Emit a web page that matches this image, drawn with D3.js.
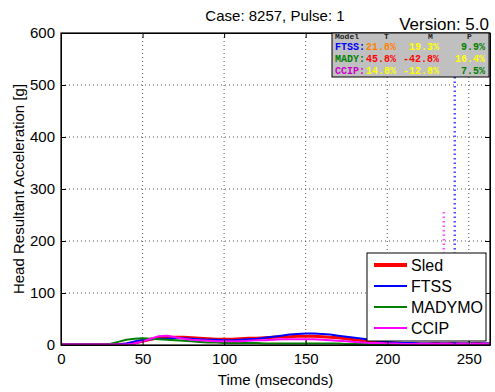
<!DOCTYPE html>
<html>
<head>
<meta charset="utf-8">
<script src="https://cdn.jsdelivr.net/npm/d3@7"></script>
<style>
  body { margin: 0; background: #fff; }
  #chart { width: 495px; height: 392px; }
  text { font-family: "Liberation Sans", Arial, sans-serif; }
</style>
</head>
<body>
<div id="chart"></div>
<script>
// Head resultant acceleration vs time, sled + three models
const seriesNames = ['Sled', 'FTSS', 'MADYMO', 'CCIP'];
const seriesColors = ['#ff0000', '#0000ff', '#008000', '#ff00ff'];
const seriesWidths = [3, 2, 2, 2];

const time = [0,5,10,15,20,25,30,35,40,45,50,55,60,65,70,75,80,85,90,95,100,105,110,115,120,125,130,135,140,145,150,155,160,165,170,175,180,185,190,195,200,205,210,215,220,225,230,235,240,245,250,255,260,263];

const sled   = [1,1,1,1,1,1,1,1,2,4,7,11,14,15,15,15,14,13,12,11,11,11,12,13,13,14,15,16,16,17,17,17,16,15,14,12,10,8,6,5,4,3,3,3,2,2,3,2,3,2,2,3,2,2];
const ftss   = [1,1,1,1,1,1,1,1,3,7,10,11,12,12,13,13,12,11,10,10,9,9,10,11,12,14,16,18,20,21,22,22,21,20,18,16,14,12,10,8,6,5,4,4,3,3,3,3,3,3,3,3,3,3];
const madymo = [1,1,1,1,1,1,2,6,10,12,13,12,11,10,9,8,7,6,5,5,4,4,4,4,4,3,3,3,3,3,3,3,3,3,3,2,2,2,2,2,2,2,2,2,2,2,2,2,2,2,2,2,2,2];
const ccip   = [1,1,1,1,1,1,1,1,1,3,7,12,17,18,15,12,10,9,8,7,7,7,7,8,9,9,10,11,11,11,11,11,10,9,8,7,6,5,4,4,3,3,2,2,2,2,2,2,2,2,2,2,2,2];
const seriesValues = [sled, ftss, madymo, ccip];

// late spikes (drawn dotted in the reference)
const spikeSeries = ['CCIP', 'FTSS'];
const spikeTime = [234.7, 241.4];
const spikePeak = [256, 560];

// summary table
const tableHeader = ['Model', 'T', 'M', 'P'];
const tableModels = ['FTSS:', 'MADY:', 'CCIP:'];
const tableModelColors = ['#0000ff', '#008000', '#cc00cc'];
const tableValues = [['21.8%', '19.3%', '9.9%'], ['45.8%', '-42.8%', '16.4%'], ['14.8%', '-12.8%', '7.5%']];
const tableColors = [['#ff8000', '#ffff00', '#008000'], ['#ff0000', '#ff0000', '#ffff00'], ['#ffff00', '#ffff00', '#008000']];

const xTicks = [0, 50, 100, 150, 200, 250];
const yTicks = [0, 100, 200, 300, 400, 500, 600];

const W = 495, H = 392;
const margin = {top: 33, right: 5, bottom: 47, left: 61};
const width = W - margin.left - margin.right;
const height = H - margin.top - margin.bottom;

const svg = d3.select('#chart').append('svg').attr('width', W).attr('height', H);
const g = svg.append('g').attr('transform', `translate(${margin.left},${margin.top})`);

const x = d3.scaleLinear().domain([0, 263]).range([0, width]);
const y = d3.scaleLinear().domain([0, 600]).range([height, 0]);

// grid
g.append('g').selectAll('line').data(xTicks.slice(1)).enter().append('line')
  .attr('x1', d => x(d)).attr('x2', d => x(d)).attr('y1', 0).attr('y2', height)
  .attr('stroke', '#555').attr('stroke-dasharray', '1,3');
g.append('g').selectAll('line').data(yTicks.slice(1, -1)).enter().append('line')
  .attr('y1', d => y(d)).attr('y2', d => y(d)).attr('x1', 0).attr('x2', width)
  .attr('stroke', '#555').attr('stroke-dasharray', '1,3');

// curves
const line = d3.line().x((d, i) => x(time[i])).y(d => y(d));
seriesValues.forEach((vals, k) => {
  g.append('path').datum(vals).attr('fill', 'none')
    .attr('stroke', seriesColors[k]).attr('stroke-width', seriesWidths[k])
    .attr('stroke-linejoin', 'round').attr('d', line);
});

// spikes
spikeTime.forEach((t, i) => {
  const c = seriesColors[seriesNames.indexOf(spikeSeries[i])];
  g.append('line').attr('x1', x(t)).attr('x2', x(t)).attr('y1', y(2)).attr('y2', y(spikePeak[i]))
    .attr('stroke', c).attr('stroke-width', 2.5).attr('stroke-dasharray', '1.5,3').attr('opacity', 0.7);
});

// axes (ticks inward, mirrored)
const fs = '15px';
g.append('g').attr('transform', `translate(0,${height})`)
  .call(d3.axisBottom(x).tickValues(xTicks).tickSizeInner(-5).tickSizeOuter(0).tickPadding(8));
g.append('g')
  .call(d3.axisLeft(y).tickValues(yTicks).tickSizeInner(-5).tickSizeOuter(0).tickPadding(6));
g.append('g').call(d3.axisTop(x).tickValues(xTicks).tickSizeInner(-5).tickSizeOuter(0).tickFormat(''));
g.append('g').attr('transform', `translate(${width},0)`)
  .call(d3.axisRight(y).tickValues(yTicks).tickSizeInner(-5).tickSizeOuter(0).tickFormat(''));
svg.selectAll('.domain').attr('stroke', '#000');
svg.selectAll('.tick line').attr('stroke', '#000');
svg.selectAll('.tick text').attr('fill', '#000')
  .style('font-size', fs).style('font-family', '"Liberation Sans", Arial, sans-serif');
g.append('rect').attr('width', width).attr('height', height).attr('fill', 'none')
  .attr('stroke', '#000').attr('stroke-width', 1.2);

// titles
svg.append('text').attr('x', 275).attr('y', 21).attr('text-anchor', 'middle')
  .style('font-size', '15px').text('Case: 8257, Pulse: 1');
svg.append('text').attr('x', 489).attr('y', 30).attr('text-anchor', 'end')
  .style('font-size', '17px').text('Version: 5.0');
svg.append('text').attr('x', margin.left + width / 2).attr('y', 385).attr('text-anchor', 'middle')
  .style('font-size', '15px').text('Time (mseconds)');
svg.append('text').attr('transform', `translate(24,${margin.top + height / 2}) rotate(-90)`)
  .attr('text-anchor', 'middle').style('font-size', '15px').text('Head Resultant Acceleration [g]');

// table
const tb = svg.append('g').attr('transform', 'translate(332,33)');
tb.append('rect').attr('width', 157).attr('height', 44).attr('fill', '#c0c0c0')
  .attr('stroke', '#000').attr('stroke-width', 1);
const mono = '"Liberation Mono", "DejaVu Sans Mono", monospace';
const colRight = [64, 107, 153];
const headerX = [3, 52, 96, 135];
tableHeader.forEach((h, i) => {
  tb.append('text').attr('x', headerX[i]).attr('y', 6)
    .style('font-family', mono).style('font-size', '8px').style('font-weight', 'bold')
    .attr('fill', '#222').text(h);
});
tableModels.forEach((m, r) => {
  const yy = 16.5 + r * 12;
  tb.append('text').attr('x', 3).attr('y', yy)
    .style('font-family', mono).style('font-size', '10px').style('font-weight', 'bold')
    .attr('fill', tableModelColors[r]).text(m);
  tableValues[r].forEach((v, c) => {
    tb.append('text').attr('x', colRight[c]).attr('y', yy).attr('text-anchor', 'end')
      .style('font-family', mono).style('font-size', '10px').style('font-weight', 'bold')
      .attr('fill', tableColors[r][c]).text(v);
  });
});

// legend
const lg = svg.append('g').attr('transform', 'translate(367,253)');
lg.append('rect').attr('width', 119).attr('height', 88).attr('fill', '#fff')
  .attr('stroke', '#000').attr('stroke-width', 1);
seriesNames.forEach((n, i) => {
  const yy = 12 + i * 21;
  lg.append('line').attr('x1', 7).attr('x2', 40).attr('y1', yy).attr('y2', yy)
    .attr('stroke', seriesColors[i]).attr('stroke-width', seriesWidths[i] + (i === 0 ? 1 : 0));
  lg.append('text').attr('x', 44).attr('y', yy + 6).style('font-size', '16px').text(n);
});
</script>
</body>
</html>
